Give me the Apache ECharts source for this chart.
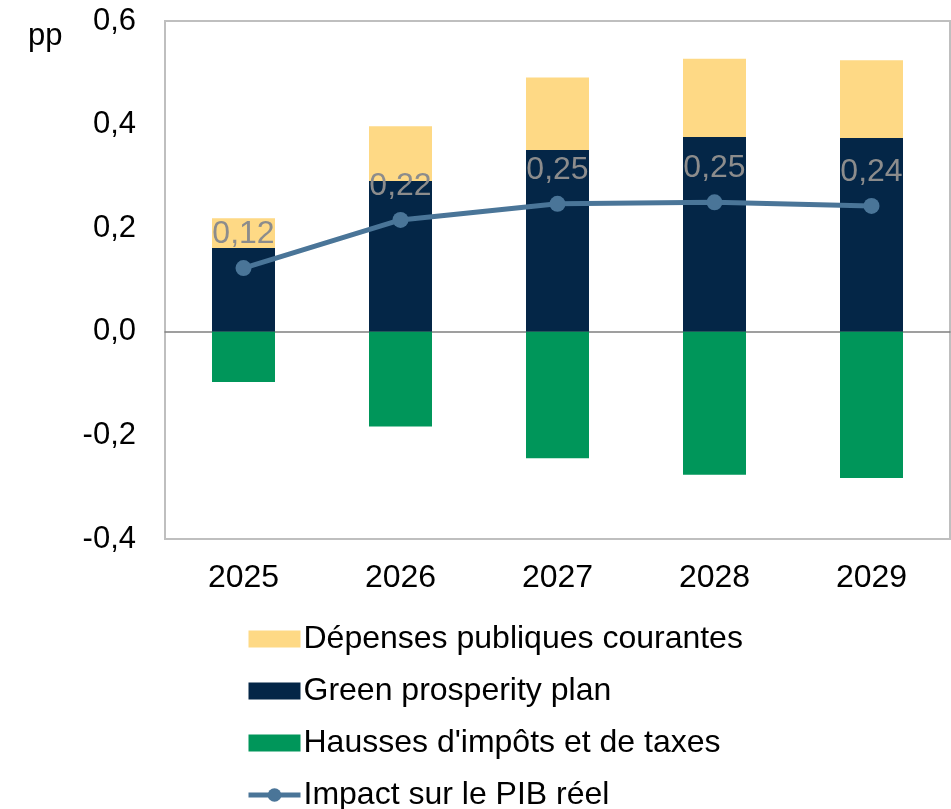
<!DOCTYPE html>
<html>
<head>
<meta charset="utf-8">
<script src="https://cdn.jsdelivr.net/npm/echarts@6/dist/echarts.min.js"></script>
<style>
  html, body { margin: 0; padding: 0; background: #fff; }
  #chart { width: 951px; height: 809px; }
</style>
</head>
<body>
<div id="chart"></div>
<script>
// categories and values (pp)
const years = ['2025', '2026', '2027', '2028', '2029']
const depensesCourantes = [0.057, 0.106, 0.140, 0.151, 0.150]
const greenPlan = [0.162, 0.291, 0.351, 0.376, 0.374]
const haussesImpots = [-0.097, -0.183, -0.244, -0.276, -0.282]
const impactPib = [0.123, 0.216, 0.247, 0.250, 0.243]
const yTicks = [-0.4, -0.2, 0.0, 0.2, 0.4, 0.6]

const font = 'Liberation Sans, Arial, sans-serif'
const fmt = v => v.toFixed(1).replace('.', ',')

const chart = echarts.init(document.getElementById('chart'), null, { renderer: 'canvas' })

chart.setOption({
  animation: false,
  textStyle: { fontFamily: font },
  title: {
    text: 'pp',
    left: 23,
    top: 16,
    textStyle: { fontFamily: font, fontSize: 31, fontWeight: 'normal', color: '#000' }
  },
  legend: {
    orient: 'vertical',
    left: 246,
    top: 623,
    height: 220,
    padding: 0,
    itemWidth: 52,
    itemHeight: 17,
    itemGap: 20,
    textStyle: { fontFamily: font, fontSize: 32, color: '#000', padding: [0, 0, 0, -2] },
    data: [
      { name: 'Dépenses publiques courantes', icon: 'rect' },
      { name: 'Green prosperity plan', icon: 'rect' },
      { name: "Hausses d'impôts et de taxes", icon: 'rect' },
      { name: 'Impact sur le PIB réel', lineStyle: { width: 5 } }
    ]
  },
  grid: {
    left: 165,
    right: 1,
    top: 21,
    bottom: 270,
    show: true,
    borderColor: '#bfbfbf',
    borderWidth: 2
  },
  xAxis: {
    type: 'category',
    data: years,
    axisLine: { onZero: true, lineStyle: { color: '#808080', width: 1.5 } },
    axisTick: { show: false },
    axisLabel: { fontFamily: font, fontSize: 32, color: '#000', margin: 23 }
  },
  yAxis: {
    type: 'value',
    min: yTicks[0],
    max: yTicks[yTicks.length - 1],
    interval: 0.2,
    splitLine: { show: false },
    axisLine: { show: false },
    axisTick: { show: false },
    axisLabel: { fontFamily: font, fontSize: 31, color: '#000', margin: 29, formatter: fmt }
  },
  series: [
    {
      name: 'Green prosperity plan',
      type: 'bar',
      stack: 'total',
      barWidth: 63,
      itemStyle: { color: '#042647' },
      data: greenPlan
    },
    {
      name: 'Dépenses publiques courantes',
      type: 'bar',
      stack: 'total',
      barWidth: 63,
      itemStyle: { color: '#fed985' },
      data: depensesCourantes
    },
    {
      name: "Hausses d'impôts et de taxes",
      type: 'bar',
      stack: 'total',
      barWidth: 63,
      itemStyle: { color: '#00965a' },
      data: haussesImpots
    },
    {
      name: 'Impact sur le PIB réel',
      type: 'line',
      symbol: 'circle',
      symbolSize: 16,
      z: 5,
      lineStyle: { color: '#4a7598', width: 5 },
      itemStyle: { color: '#4a7598' },
      label: {
        show: true,
        position: 'top',
        distance: 10,
        fontFamily: font,
        fontSize: 32,
        color: '#8c8c8c',
        formatter: p => p.value.toFixed(2).replace('.', ',')
      },
      data: impactPib
    }
  ]
})
</script>
</body>
</html>
